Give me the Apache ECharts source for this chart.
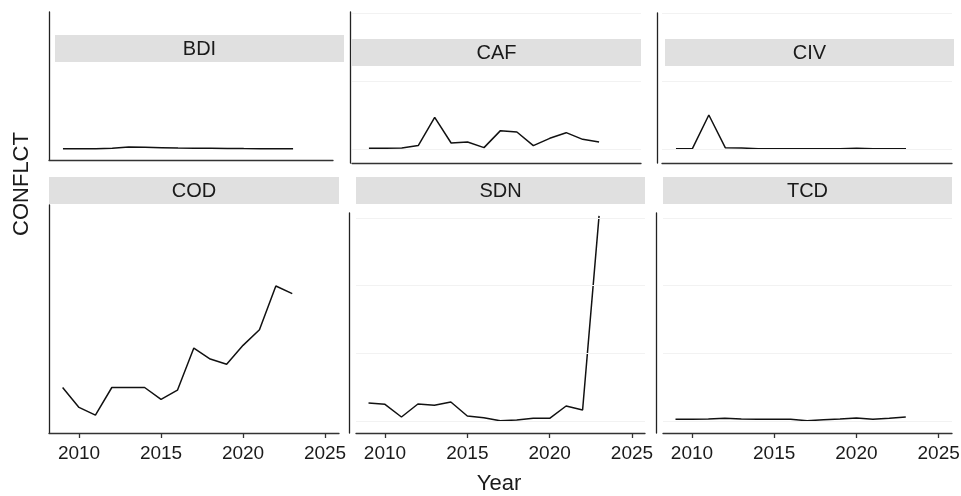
<!DOCTYPE html>
<html>
<head>
<meta charset="utf-8">
<script src="https://cdn.jsdelivr.net/npm/echarts@6/dist/echarts.min.js"></script>
<style>
html,body{margin:0;padding:0;background:#fff;}
#chart{width:961px;height:496px;}
</style>
</head>
<body>
<div id="chart"></div>
<script>
// ---- data ----
const years = [2009, 2010, 2011, 2012, 2013, 2014, 2015, 2016, 2017, 2018, 2019, 2020, 2021, 2022, 2023];
const countries = ['BDI', 'CAF', 'CIV', 'COD', 'SDN', 'TCD'];
const BDI = [5, 5, 5, 10, 30, 25, 20, 15, 12, 10, 8, 6, 5, 5, 5];
const CAF = [10, 10, 15, 50, 465, 88, 103, 20, 270, 250, 50, 157, 240, 142, 103];
const CIV = [5, 5, 500, 20, 15, 5, 5, 5, 5, 5, 5, 12, 5, 5, 5];
const COD = [495, 201, 88, 495, 495, 495, 319, 456, 1078, 916, 838, 1118, 1348, 1995, 1882];
const SDN = [266, 246, 59, 251, 232, 281, 74, 49, 5, 15, 40, 40, 222, 162, 3030];
const TCD = [25, 25, 30, 40, 30, 25, 25, 25, 5, 20, 30, 45, 25, 40, 59];
const xTickYears = [2010, 2015, 2020, 2025];
const yGridValues = [0, 1000, 2000, 3000];
const xTitle = 'Year';
const yTitle = 'CONFLCT';

const seriesData = { BDI, CAF, CIV, COD, SDN, TCD };

// ---- layout (pixels) ----
const layout = {
  BDI: { left: 49,  right: 333, top: 12,  bottom: 160, yOff: 0, xMin: 2008.15, xMax: 2025.43, yMin: -162, yMax: 2015, labels: false, grid: false,
         strip: [55, 35, 289, 27] },
  CAF: { left: 352, right: 641, top: 12,  bottom: 163, yOff: 2, xMin: 2007.97, xMax: 2025.55, yMin: -206, yMax: 2015, labels: false, grid: true,
         strip: [352, 39, 289, 27] },
  CIV: { left: 662, right: 952, top: 13,  bottom: 163, yOff: 5, xMin: 2008.15, xMax: 2025.80, yMin: -206, yMax: 2000, labels: false, grid: true,
         strip: [665, 39, 289, 27] },
  COD: { left: 49,  right: 339, top: 205, bottom: 433, yOff: 0, xMin: 2008.17, xMax: 2025.85, yMin: -177, yMax: 3191, labels: true, grid: false,
         strip: [49, 177, 290, 27] },
  SDN: { left: 356, right: 645, top: 213, bottom: 433, yOff: 7, xMin: 2008.24, xMax: 2025.79, yMin: -177, yMax: 3072, labels: true, grid: true,
         strip: [356, 177, 289, 27] },
  TCD: { left: 663, right: 952, top: 213, bottom: 433, yOff: 7, xMin: 2008.24, xMax: 2025.81, yMin: -177, yMax: 3072, labels: true, grid: true,
         strip: [663, 177, 289, 27] }
};

const FONT = '"Liberation Sans", Arial, Helvetica, sans-serif';
const grids = [], xAxes = [], yAxes = [], series = [], graphics = [];

countries.forEach((c, i) => {
  const L = layout[c];
  grids.push({ left: L.left, top: L.top, width: L.right - L.left, height: L.bottom - L.top,
               containLabel: false, outerBoundsMode: 'none' });
  xAxes.push({
    type: 'value', gridIndex: i, min: L.xMin, max: L.xMax,
    axisLine: { show: true, onZero: false, lineStyle: { color: '#333', width: 1.3 } },
    axisTick: { show: L.labels, customValues: xTickYears, length: 5, lineStyle: { color: '#333', width: 1.3 } },
    axisLabel: { show: L.labels, customValues: xTickYears, formatter: v => String(Math.round(v)),
                 fontSize: 19, color: '#1a1a1a', fontFamily: FONT, margin: 11 },
    splitLine: { show: false }
  });
  yAxes.push({
    type: 'value', gridIndex: i, min: L.yMin, max: L.yMax, offset: L.yOff,
    axisLine: { show: true, lineStyle: { color: '#222', width: 1.3 } },
    axisTick: { show: false }, axisLabel: { show: false }, splitLine: { show: false }
  });
  const s = {
    type: 'line', xAxisIndex: i, yAxisIndex: i,
    data: years.map((y, k) => [y, seriesData[c][k]]),
    showSymbol: false, symbol: 'none',
    lineStyle: { color: '#111', width: 1.5 },
    clip: true, silent: true
  };
  if (L.grid) {
    s.markLine = {
      silent: true, symbol: 'none', animation: false,
      label: { show: false },
      lineStyle: { color: '#f2f2f2', type: 'solid', width: 1 },
      data: yGridValues.filter(v => v <= L.yMax).map(v => ({ yAxis: v }))
    };
  }
  series.push(s);
  const [sx, sy, sw, sh] = L.strip;
  graphics.push({ type: 'rect', left: sx, top: sy, shape: { width: sw, height: sh }, style: { fill: '#e0e0e0' }, z: 10 });
  graphics.push({ type: 'text', x: sx + sw / 2, y: sy + sh / 2 + 1, z: 11,
    style: { text: c, fill: '#1a1a1a', font: '20px ' + FONT, textAlign: 'center', textVerticalAlign: 'middle' } });
});

graphics.push({ type: 'text', x: 22, y: 184, rotation: Math.PI / 2, z: 11,
  style: { text: yTitle, fill: '#1a1a1a', font: '22px ' + FONT, textAlign: 'center', textVerticalAlign: 'middle' } });
graphics.push({ type: 'text', x: 499, y: 484, z: 11,
  style: { text: xTitle, fill: '#1a1a1a', font: '22px ' + FONT, textAlign: 'center', textVerticalAlign: 'middle' } });

const chart = echarts.init(document.getElementById('chart'), null, { renderer: 'canvas' });
chart.setOption({
  animation: false,
  backgroundColor: '#fff',
  grid: grids, xAxis: xAxes, yAxis: yAxes, series: series,
  graphic: graphics
});
</script>
</body>
</html>
